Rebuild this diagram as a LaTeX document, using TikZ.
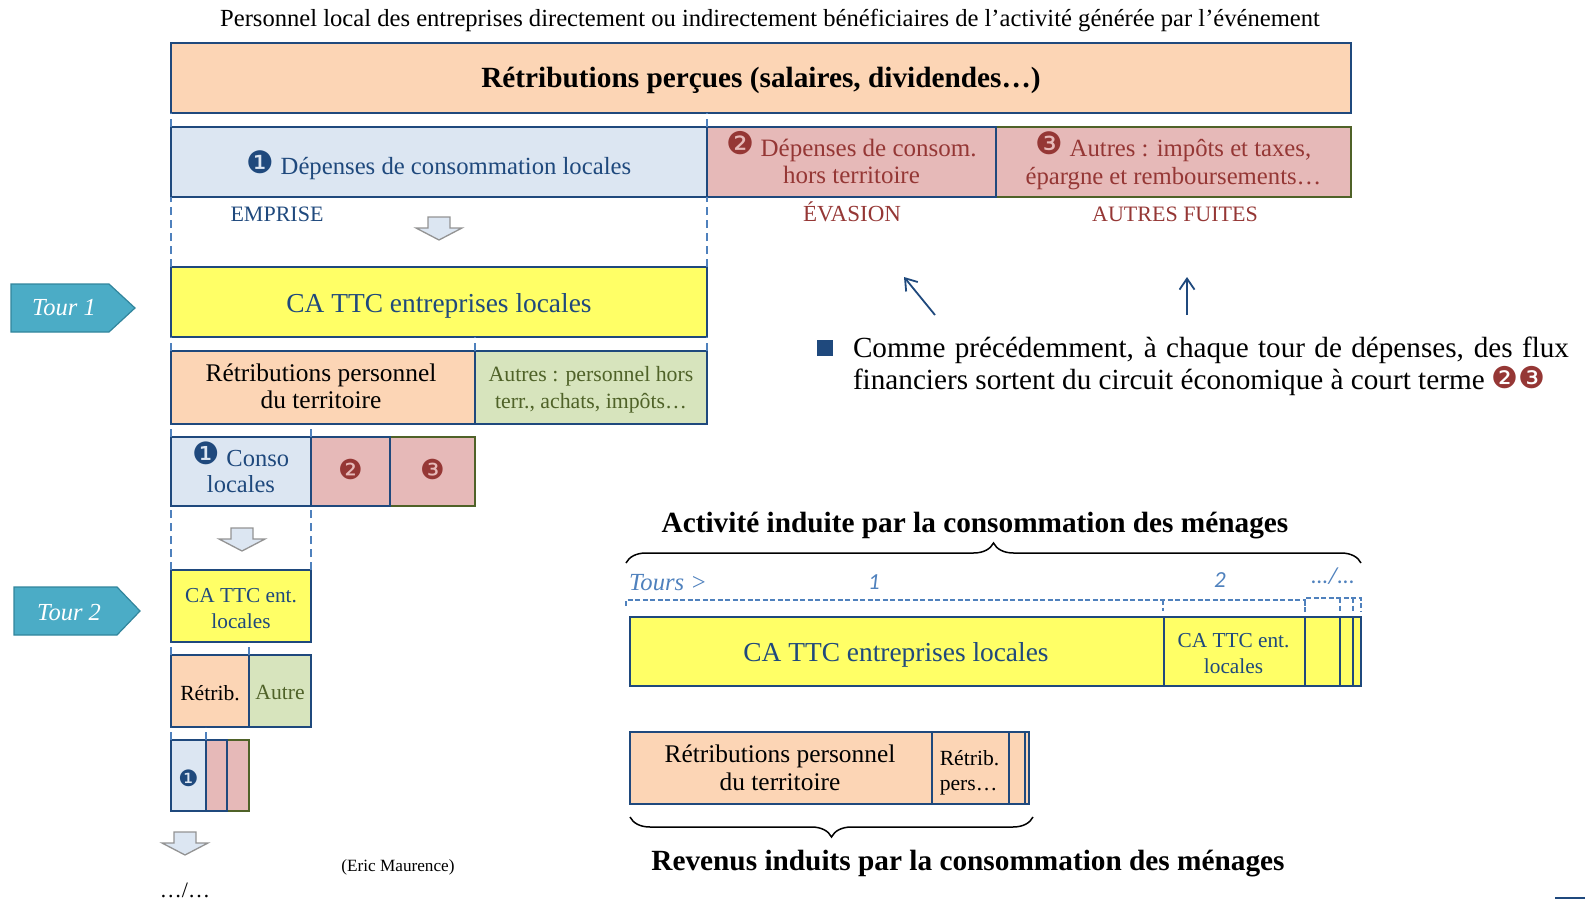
\documentclass[tikz,border=0pt]{standalone}
\usepackage{fontspec}
\setmainfont{Liberation Serif}
\newfontfamily\dejavu[Scale=1.25]{DejaVu Sans}
\newfontfamily\carlito{Carlito}
\usetikzlibrary{arrows.meta,decorations.pathreplacing}
\definecolor{navy}{HTML}{1F497D}
\definecolor{dred}{HTML}{953735}
\definecolor{olive}{HTML}{4F6228}
\definecolor{fblue}{HTML}{DCE6F2}
\definecolor{fred}{HTML}{E6B9B8}
\definecolor{forange}{HTML}{FCD5B5}
\definecolor{fgreen}{HTML}{D7E4BD}
\definecolor{fyellow}{HTML}{FFFF66}
\definecolor{teal2}{HTML}{4BACC6}
\definecolor{teal3}{HTML}{31859C}
\definecolor{dashblue}{HTML}{4F81BD}
\newcommand\fsz[2]{\fontsize{#1pt}{#2pt}\selectfont}
\newcommand\cn[1]{\raisebox{1.5pt}{\dejavu #1}}
% name x1 y1 x2 y2 style text
\newcommand\bx[7]{%
  \pgfmathsetmacro\bxw{#4-#2}\pgfmathsetmacro\bxh{#5-#3}%
  \pgfmathsetmacro\bxx{(#2+#4)/2}\pgfmathsetmacro\bxy{(#3+#5)/2}%
  \node[boxbase,lift=0,nudge=0,#6,minimum width=\bxw pt,minimum height=\bxh pt] (#1) at (\bxx,\bxy) {};%
  \if\relax\detokenize{#7}\relax\else
  \node[boxbase,lift=0,nudge=0,#6,draw=none,fill=none,yshift=-\bxlift pt,xshift=\bxnudge pt] (#1t) at (#1.center) {#7};%
  \fi}
\newcommand\hollow[2]{%
  \pgfmathsetmacro\hwa{#1-23}\pgfmathsetmacro\hwb{#1-11}\pgfmathsetmacro\hwc{#1+11}\pgfmathsetmacro\hwd{#1+23}%
  \pgfmathsetmacro\hwe{#2+11}\pgfmathsetmacro\hwf{#2+23}%
  \draw[hollowarrow] (\hwb,#2) -- (\hwc,#2) -- (\hwc,\hwe) -- (\hwd,\hwe) -- (#1,\hwf) -- (\hwa,\hwe) -- (\hwb,\hwe) -- cycle;}
\tikzset{
  x=1pt,y=-1pt,
  lift/.code={\def\bxlift{#1}},
  nudge/.code={\def\bxnudge{#1}},
  boxbase/.style={draw=navy,line width=1.5pt,inner sep=0pt,outer sep=0pt,align=center,rectangle},
  bluebox/.style={fill=fblue,text=navy},
  redbox/.style={fill=fred,text=dred},
  redolive/.style={fill=fred,text=dred,draw=olive},
  orangebox/.style={fill=forange,text=black},
  greenbox/.style={fill=fgreen,text=olive},
  yellowbox/.style={fill=fyellow,text=navy},
  guide/.style={draw=dashblue,line width=1.2pt,dash pattern=on 8pt off 5pt},
  fineguide/.style={draw=dashblue,line width=1.2pt,dash pattern=on 5pt off 2.5pt},
  hollowarrow/.style={draw=gray!85,fill=fblue,line width=1.3pt,line join=miter},
  thinarrow/.style={draw=navy,line width=1.8pt,-{Straight Barb[length=11pt,width=15pt]}},
  tourshape/.style={fill=teal2,draw=teal3,line width=1.2pt},
  tourlabel/.style={text=white,font=\fsz{24.5}{26}\itshape,inner sep=0pt},
  note/.style={inner sep=0pt,outer sep=0pt},
  bracec/.style={draw=black,line width=1.5pt,decorate},
}
\begin{document}
\begin{tikzpicture}
\useasboundingbox (0,0) rectangle (1585,899);
\node[note,font=\fsz{24.6}{26}] (title) at (770,20.5) {Personnel local des entreprises directement ou indirectement bénéficiaires de l’activité générée par l’événement};
\bx{retr}{171}{43}{1351}{113}{orangebox,lift=2,font=\fsz{29.3}{32}\bfseries}{Rétributions perçues (salaires, dividendes…)}
\bx{r3}{996}{127}{1351}{197}{redolive,lift=-1,font=\fsz{24.7}{28}}{\cn{❸} Autres : impôts et taxes,\\épargne et remboursements…}
\bx{r2}{707}{127}{996}{197}{redbox,lift=-4,font=\fsz{25}{27.5}}{\cn{❷} Dépenses de consom.\\hors territoire}
\bx{r1}{171}{127}{707}{197}{bluebox,lift=3,font=\fsz{24.7}{28}}{\cn{❶} Dépenses de consommation locales}
\node[note,text=navy,font=\fsz{22}{26}] (emprise) at (277,214) {EMPRISE};
\node[note,text=dred,font=\fsz{23}{26}] (evasion) at (852,212) {ÉVASION};
\node[note,text=dred,font=\fsz{22}{26}] (fuites) at (1175,214) {AUTRES FUITES};
\bx{ca1}{171}{267}{707}{337}{yellowbox,lift=4,font=\fsz{27.4}{32}}{CA TTC entreprises locales}
\bx{b1}{171}{351}{475}{424}{orangebox,lift=-1,nudge=-2,font=\fsz{25.4}{27}}{Rétributions personnel\\du territoire}
\bx{c1}{475}{351}{707}{424}{greenbox,lift=2,font=\fsz{21.8}{27}}{Autres : personnel hors\\terr., achats, impôts…}
\bx{e3}{390}{437}{475}{506}{redolive,lift=-1,font=\fsz{22}{24}}{\cn{❸}}
\bx{e2}{311}{437}{390}{506}{redbox,lift=-1,font=\fsz{22}{24}}{\cn{❷}}
\bx{e1}{171}{437}{311}{506}{bluebox,lift=-4,font=\fsz{24.5}{26}}{\cn{❶} Conso\\locales}
\bx{ca2}{171}{570}{311}{642}{yellowbox,lift=3,font=\fsz{21.3}{26}}{CA TTC ent.\\locales}
\bx{b2}{171}{655}{249}{727}{orangebox,lift=2,font=\fsz{21.6}{26}}{Rétrib.}
\bx{c2}{249}{655}{311}{727}{greenbox,lift=1,font=\fsz{21.6}{26}}{Autre}
\bx{f3}{227}{740}{249}{811}{redolive}{}
\bx{f2}{206}{740}{227}{811}{redbox}{}
\bx{f1}{171}{740}{206}{811}{bluebox,lift=3,font=\fsz{18}{20}}{\cn{❶}}
% guides (drawn upward, so that each starts with a full dash at the lower box)
\draw[guide] (r1.north west) -- (retr.south west);
\draw[guide] (r1.north east) -- (retr.south -| r1.south east);
\draw[guide] (ca1.north west) -- (r1.south west);
\draw[guide] (ca1.north east) -- (r1.south east);
\draw[guide] (b1.north west) -- (ca1.south west);
\draw[guide] (b1.north east) -- (ca1.south -| b1.north east);
\draw[guide] (c1.north east) -- (ca1.south east);
\draw[guide] (e1.north west) -- (b1.south west);
\draw[guide] (e1.north east) -- (b1.south -| e1.north east);
\draw[guide] (ca2.north west) -- (e1.south west);
\draw[guide] (ca2.north east) -- (e1.south east);
\draw[guide] (b2.north west) -- (ca2.south west);
\draw[guide] (b2.north east) -- (ca2.south -| b2.north east);
\draw[guide] (f1.north west) -- (b2.south west);
\draw[guide] (f1.north east) -- (b2.south -| f1.north east);
% hollow arrows
\hollow{439}{217}
\hollow{242}{528}
\hollow{185}{832}
% tours
\draw[tourshape] (11,284) -- (109,284) -- (135,308) -- (109,332) -- (11,332) -- cycle;
\node[tourlabel] (t1) at (64,308) {Tour 1};
\draw[tourshape] (14,587) -- (117,587) -- (140,611) -- (117,635) -- (14,635) -- cycle;
\node[tourlabel] (t2) at (69,613) {Tour 2};
% thin arrows
\coordinate (a1s) at (935,315); \coordinate (a1e) at (904,277);
\coordinate (a2s) at (1187,315); \coordinate (a2e) at (1187,277);
\draw[thinarrow] (a1s) -- (a1e);
\draw[thinarrow] (a2s) -- (a2e);
% note
\fill[navy] (817,340) rectangle (833,356);
\node[note,anchor=west,font=\fsz{29.2}{32}] (n1) at (853,350) {\makebox[716pt][s]{Comme précédemment, à chaque tour de dépenses, des flux}};
\node[note,anchor=west,font=\fsz{29.2}{32}] (n2) at (853,381) {financiers sortent du circuit économique à court terme {\color{dred}\fsz{24}{28}\cn{❷❸}}};
% right chart
\node[note,font=\fsz{29.3}{32}\bfseries] (h1) at (975,526) {Activité induite par la consommation des ménages};
\coordinate (bl1) at (626,563); \coordinate (br1) at (1361,563);
\draw[bracec,decoration={brace,amplitude=20pt,aspect=0.5}] (bl1) -- (br1);
\node[note,text=dashblue,font=\fsz{24.6}{26}\itshape] (tours) at (668,583) {Tours >};
\node[note,text=dashblue,font=\fsz{23}{26}\carlito\itshape] (n1t) at (874,582) {1};
\node[note,text=dashblue,font=\fsz{23}{26}\carlito\itshape] (n2t) at (1220,580) {2};
\node[note,text=dashblue,font=\fsz{23}{26}\carlito\itshape] (n3t) at (1333,576) {.../...};
\bx{y5}{1353}{617}{1361}{686}{yellowbox}{}
\bx{y4}{1340}{617}{1353}{686}{yellowbox}{}
\bx{y3}{1305}{617}{1340}{686}{yellowbox}{}
\bx{y2}{1164}{617}{1305}{686}{yellowbox,lift=2,nudge=-1,font=\fsz{21.3}{26}}{CA TTC ent.\\locales}
\bx{y1}{630}{617}{1164}{686}{yellowbox,lift=3,nudge=-1,font=\fsz{27.4}{32}}{CA TTC entreprises locales}
\coordinate (d0) at (626,600); \coordinate (d1) at (1163,600); \coordinate (d2) at (1305,600);
\coordinate (d3) at (1305,598); \coordinate (d4) at (1340,598); \coordinate (d5) at (1353,598); \coordinate (d6) at (1361,598);
\draw[fineguide] (626,606) -- (d0) -- (d2) -- (1305,606);
\draw[fineguide] (d1) -- (1163,611);
\draw[fineguide] (1305,612) -- (d3) -- (d6) -- (1361,612);
\draw[fineguide] (d4) -- (1340,612);
\draw[fineguide] (d5) -- (1353,612);
\bx{o4}{1025}{732}{1029}{804}{orangebox}{}
\bx{o3}{1009}{732}{1025}{804}{orangebox}{}
\bx{o2}{932}{732}{1009}{804}{orangebox,lift=5,nudge=-1,align=left,font=\fsz{21.6}{25}}{Rétrib.\\pers…}
\bx{o1}{630}{732}{932}{804}{orangebox,nudge=-1,font=\fsz{25.4}{28}}{Rétributions personnel\\du territoire}
\coordinate (bl2) at (630,817); \coordinate (br2) at (1033,817);
\draw[bracec,decoration={brace,mirror,amplitude=20pt,aspect=0.5}] (bl2) -- (br2);
\node[note,font=\fsz{29.3}{32}\bfseries] (h2) at (968,864) {Revenus induits par la consommation des ménages};
\node[note,font=\fsz{17.2}{20}] (auth) at (398,867) {(Eric Maurence)};
\node[note,font=\fsz{22}{26}] (more) at (185,890) {…/…};
\draw[navy,line width=1.5pt] (1555,898) -- (1585,898);
\end{tikzpicture}
\end{document}
